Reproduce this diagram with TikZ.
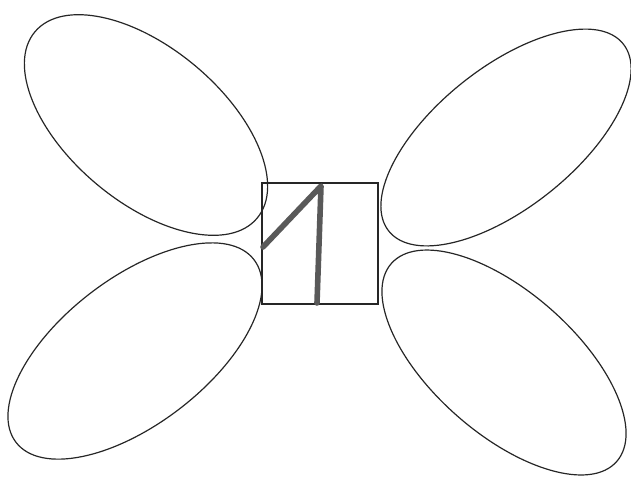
\documentclass[tikz,border=0pt]{standalone}
\begin{document}
\begin{tikzpicture}[x=0.75pt,y=-0.75pt,
  outline/.style={draw=black!85,line width=0.9pt},
  digit/.style={draw=black!65,line width=4.2pt,line cap=round,line join=round}]
\useasboundingbox (0,0) rectangle (631,476);
% petals
\coordinate (ptl) at (146,125);
\coordinate (ptr) at (506,137.5);
\coordinate (pbl) at (135,351);
\coordinate (pbr) at (504,362.5);
\draw[outline] (ptl) ellipse [x radius=145, y radius=77, rotate=-40];
\draw[outline] (ptr) ellipse [x radius=150, y radius=70, rotate=38.6];
\draw[outline] (pbl) ellipse [x radius=150, y radius=73, rotate=37.5];
\draw[outline] (pbr) ellipse [x radius=150, y radius=71, rotate=-41.3];
% central square
\coordinate (sqa) at (262,183);
\coordinate (sqb) at (378,304);
\draw[outline] (sqa) rectangle (sqb);
% the digit 1
\coordinate (d1) at (263,247);
\coordinate (d2) at (321,186);
\coordinate (d3) at (317,303);
\draw[digit] (d1) -- (d2) -- (d3);
\end{tikzpicture}
\end{document}
